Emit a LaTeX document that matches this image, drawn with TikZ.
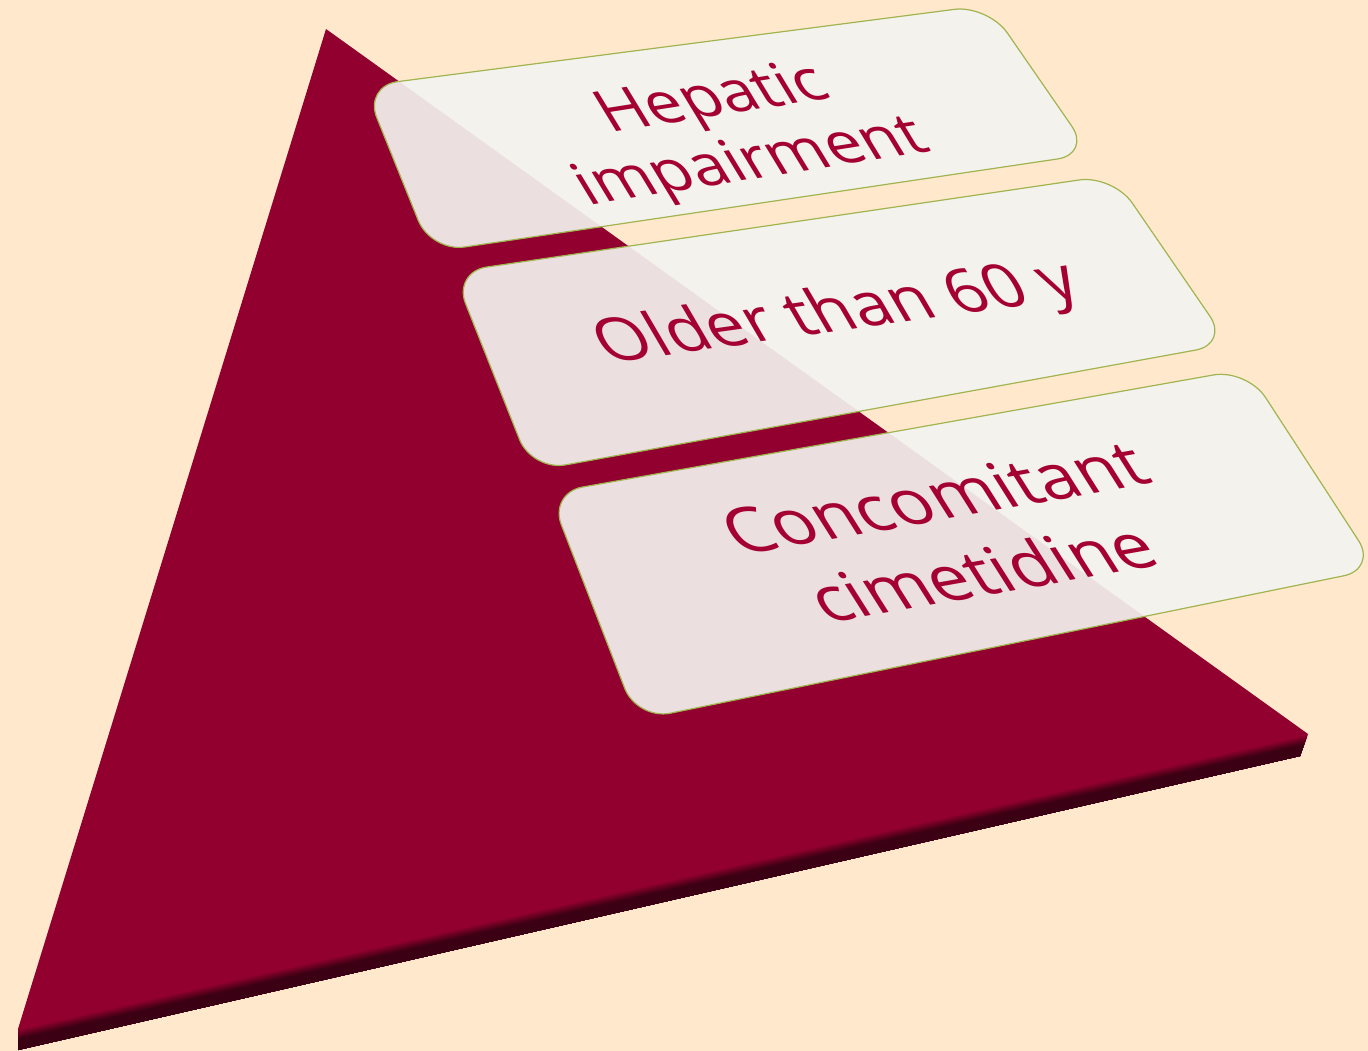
\documentclass[tikz,border=0pt]{standalone}
\usepackage{fontspec}
\setsansfont{Open Sans}
\usetikzlibrary{calc}
\definecolor{bgcream}{RGB}{255,232,204}
\definecolor{pyrred}{RGB}{145,0,46}
\definecolor{pyrdark}{RGB}{60,0,20}
\definecolor{cardfill}{RGB}{244,243,240}
\definecolor{cardline}{RGB}{160,180,80}
\definecolor{cardtext}{RGB}{165,0,50}
\tikzset{
  card/.style={fill=cardfill, fill opacity=0.92, draw=cardline, line width=1.2pt, rounded corners=34pt},
  cardlabel/.style={text=cardtext, align=center, xscale=1.08, xslant=-0.38}
}

\begin{document}
\begin{tikzpicture}[x=1pt, y=-1pt]

  \useasboundingbox (0,0) rectangle (1368,1051);
  \fill[bgcream] (0,0) rectangle (1368,1051);

  %% pyramid, top face and front edge
  \coordinate (apex) at (326,29);
  \coordinate (left) at (18,1029);
  \coordinate (right) at (1308,734);
  \coordinate (leftlow) at (18,1050);
  \coordinate (rightlow) at (1300,756);

  \fill[pyrred] (apex) -- (right) -- (rightlow) -- (leftlow) -- (left) -- cycle;
  \foreach \i in {1,...,15}{
    \pgfmathsetmacro\ta{\i/16}
    \pgfmathtruncatemacro\mix{min(100,\i*14)}
    \fill[pyrdark!\mix!pyrred] ($(left)!\ta!(leftlow)$) -- ($(right)!\ta!(rightlow)$)
      -- (rightlow) -- (leftlow) -- cycle;
  }

  %% the three cards
  \draw[card] (364,86) -- (988,5) -- (1091,154) -- (431,252) -- cycle;
  \draw[card] (453,272) -- (1113,175) -- (1229,344) -- (532,471) -- cycle;
  \draw[card] (549,493) -- (1247,369) -- (1377,569) -- (637,720) -- cycle;

  \node[rotate=9, cardlabel, font=\sffamily\fontsize{59}{68}\selectfont] (hepatic) at (733,133) {Hepatic\\impairment};
  \node[rotate=8, cardlabel, font=\sffamily\fontsize{62}{70}\selectfont] (older) at (838,315) {Older than 60 y};
  \node[rotate=10, cardlabel, font=\sffamily\fontsize{65}{82}\selectfont] (concomitant) at (958,535) {Concomitant\\cimetidine};

\end{tikzpicture}
\end{document}
